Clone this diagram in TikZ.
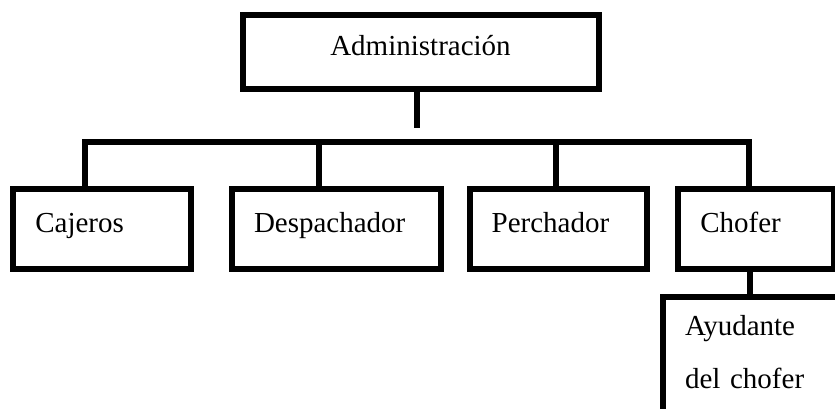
\documentclass[tikz,border=0pt]{standalone}
\usepackage{fontspec}
\setmainfont{Liberation Serif}
\usetikzlibrary{calc}
\tikzset{
  box/.style={draw=black, line width=3pt, line join=miter, minimum height=40pt,
    inner xsep=11pt, inner ysep=0pt, text height=9pt, text depth=5pt,
    font=\fontsize{14.5}{17}\selectfont},
  unit/.style={box, anchor=north west, text width=#1, align=left},
  link/.style={draw=black, line width=3pt, line join=miter},
}

\begin{document}
\begin{tikzpicture}[x=0.5pt, y=-0.5pt]
  \useasboundingbox (0,0) rectangle (835,408);
  \clip (0,0) rectangle (835,408);
  % boxes
  \node[box, minimum width=178pt, minimum height=37pt] (adm) at (420.5,51.5) {Administración};
  \node[unit=67pt] (caj) at (10.3,185.8) {Cajeros};
  \node[unit=82.5pt] (des) at (229,185.8) {Despachador};
  \node[unit=66.5pt] (per) at (466.7,185.8) {Perchador};
  \node[unit=56pt] (cho) at (675.3,185.8) {Chofer};
  \node[unit=73pt, text height=10pt, text depth=50pt, inner ysep=9pt,
    font=\fontsize{14.5}{26.5}\selectfont] (ayu) at (660,294) {Ayudante\\del chofer};
  % connectors
  \coordinate (stemend) at (417,128);
  \coordinate (busL) at (85,142);
  \coordinate (busR) at (749,142);
  \coordinate (dropD) at (319,142);
  \coordinate (dropP) at (556,142);
  \coordinate (dropA) at (750,0);
  \draw[link] (adm.south -| stemend) -- (stemend);
  \draw[link] (caj.north -| busL) -- (busL) -- (busR) -- (cho.north -| busR);
  \foreach \n/\d in {des/dropD, per/dropP}
    \draw[link] (\d) -- (\n.north -| \d);
  \draw[link] (cho.south -| dropA) -- (ayu.north -| dropA);
\end{tikzpicture}
\end{document}
